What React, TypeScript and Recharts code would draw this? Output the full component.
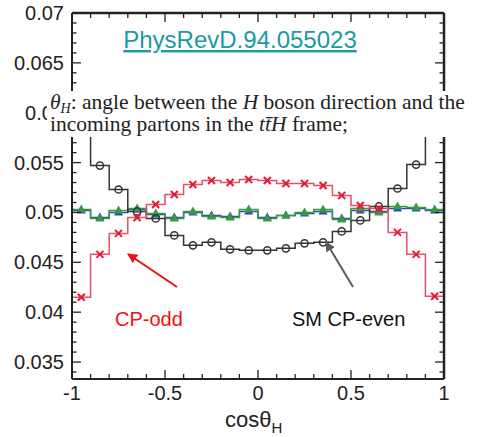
import React from "react";
import { ComposedChart, Line, Scatter, XAxis, YAxis } from "recharts";

// bin edges / centres of cos(theta_H), 20 bins
const binEdges = [
  -1, -0.9, -0.8, -0.7, -0.6, -0.5, -0.4, -0.3, -0.2, -0.1, 0,
  0.1, 0.2, 0.3, 0.4, 0.5, 0.6, 0.7, 0.8, 0.9, 1,
];
const binCenters = [
  -0.95, -0.85, -0.75, -0.65, -0.55, -0.45, -0.35, -0.25, -0.15, -0.05,
  0.05, 0.15, 0.25, 0.35, 0.45, 0.55, 0.65, 0.75, 0.85, 0.95,
];

// normalised distributions
const cpOdd = [
  0.0415, 0.0458, 0.0479, 0.0495, 0.0508, 0.0518, 0.0528, 0.0532, 0.053, 0.0533,
  0.0532, 0.0529, 0.0529, 0.0527, 0.0517, 0.0507, 0.0504, 0.048, 0.0458, 0.0416,
];
const smEven = [
  0.0595, 0.0547, 0.0523, 0.0501, 0.0494, 0.0477, 0.0467, 0.047, 0.0463, 0.0462,
  0.0462, 0.0464, 0.0469, 0.047, 0.0481, 0.0492, 0.0506, 0.0524, 0.0548, 0.0595,
];
const mixGreen = [
  0.0503, 0.0494, 0.0502, 0.0504, 0.0499, 0.0494, 0.0501, 0.0496, 0.0495, 0.0503,
  0.0494, 0.0497, 0.05, 0.0503, 0.0493, 0.0504, 0.05, 0.0506, 0.0505, 0.0503,
];
const mixBlue = [
  0.0502, 0.0495, 0.05, 0.0503, 0.0498, 0.0495, 0.05, 0.0497, 0.0496, 0.0501,
  0.0495, 0.0497, 0.0499, 0.0501, 0.0494, 0.0502, 0.0501, 0.0504, 0.0504, 0.0502,
];

const xTickLabels = ["-1", "-0.5", "0", "0.5", "1"];
const yTickLabels = ["0.035", "0.04", "0.045", "0.05", "0.055", "0.06", "0.065", "0.07"];
const yTicks = [
  0.034, 0.035, 0.036, 0.037, 0.038, 0.039, 0.04, 0.041, 0.042, 0.043, 0.044,
  0.045, 0.046, 0.047, 0.048, 0.049, 0.05, 0.051, 0.052, 0.053, 0.054, 0.055,
  0.056, 0.057, 0.058, 0.059, 0.06, 0.061, 0.062, 0.063, 0.064, 0.065, 0.066,
  0.067, 0.068, 0.069, 0.07,
];

const W = 481;
const H = 437;
const LEFT = 72;
const RIGHT = 444;
const TOP = 13;
const BOTTOM = 379;

const AXIS = "#222";
const SANS = "Arial, 'Liberation Sans', sans-serif";
const SERIF = "'Liberation Serif', 'Times New Roman', serif";

const RED_LINE = "#e4506a";
const RED_MARK = "#e01c3a";
const BLACK = "#333";
const GREEN = "#3a9a3e";
const BLUE = "#2f46b8";

const pick = (arr: number[], i: number) => arr[Math.min(i, arr.length - 1)];

const edgeRows = binEdges.map((x, i) => ({
  x,
  odd: pick(cpOdd, i),
  even: pick(smEven, i),
  green: pick(mixGreen, i),
  blue: pick(mixBlue, i),
}));
const centerRows = binCenters.map((x, i) => ({
  x,
  odd: cpOdd[i],
  even: smEven[i],
  green: mixGreen[i],
  blue: mixBlue[i],
}));

const isHalf = (v: number) => Math.abs(v * 2 - Math.round(v * 2)) < 1e-6;
const isFive = (v: number) => Math.round(v * 1000) % 5 === 0;

const BottomTick = ({ x, payload }: any) => {
  const v = payload.value;
  const major = isHalf(v);
  return (
    <g>
      <line x1={x} x2={x} y1={BOTTOM} y2={BOTTOM - (major ? 9 : 5)} stroke={AXIS} strokeWidth={1.3} />
      {major && (
        <text x={x} y={400} textAnchor="middle" fontSize={20} fontFamily={SANS} fill="#222">
          {xTickLabels[Math.round((v + 1) * 2)]}
        </text>
      )}
    </g>
  );
};

const TopTick = ({ x, payload }: any) => {
  const major = isHalf(payload.value);
  return <line x1={x} x2={x} y1={TOP} y2={TOP + (major ? 9 : 5)} stroke={AXIS} strokeWidth={1.3} />;
};

const LeftTick = ({ y, payload }: any) => {
  const v = payload.value;
  const major = isFive(v);
  return (
    <g>
      <line x1={LEFT} x2={LEFT + (major ? 9 : 4.5)} y1={y} y2={y} stroke={AXIS} strokeWidth={1.3} />
      {major && (
        <text x={64} y={y + 7} textAnchor="end" fontSize={20} fontFamily={SANS} fill="#222">
          {yTickLabels[(Math.round(v * 1000) - 35) / 5]}
        </text>
      )}
    </g>
  );
};

const RightTick = ({ y, payload }: any) => {
  const major = isFive(payload.value);
  return <line x1={RIGHT} x2={RIGHT - (major ? 9 : 4.5)} y1={y} y2={y} stroke={AXIS} strokeWidth={1.3} />;
};

const Cross = ({ cx, cy }: any) => (
  <g stroke={RED_MARK} strokeWidth={2}>
    <line x1={cx - 3.5} y1={cy - 3.5} x2={cx + 3.5} y2={cy + 3.5} />
    <line x1={cx - 3.5} y1={cy + 3.5} x2={cx + 3.5} y2={cy - 3.5} />
  </g>
);
const Circle = ({ cx, cy }: any) => (
  <circle cx={cx} cy={cy} r={3.6} fill="none" stroke={BLACK} strokeWidth={1.5} />
);
const triangle = (color: string) => ({ cx, cy }: any) => (
  <polygon
    points={`${cx},${cy - 5} ${cx - 4.5},${cy + 3} ${cx + 4.5},${cy + 3}`}
    fill={color}
  />
);

export default function App() {
  return (
    <div style={{ position: "relative", width: W, height: H, background: "#fff" }}>
      <style>{"body{margin:0}"}</style>
      <ComposedChart width={W} height={H} margin={{ top: 0, right: 0, bottom: 0, left: 0 }}>
        <XAxis
          xAxisId="b"
          dataKey="x"
          type="number"
          domain={[-1, 1]}
          ticks={binEdges}
          tick={<BottomTick />}
          tickLine={false}
          axisLine={{ stroke: AXIS, strokeWidth: 2 }}
          height={H - BOTTOM}
          interval={0}
          allowDataOverflow
        />
        <XAxis
          xAxisId="t"
          orientation="top"
          dataKey="x"
          type="number"
          domain={[-1, 1]}
          ticks={binEdges}
          tick={<TopTick />}
          tickLine={false}
          axisLine={{ stroke: AXIS, strokeWidth: 2.5 }}
          height={TOP}
          interval={0}
          allowDataOverflow
        />
        <YAxis
          yAxisId="l"
          type="number"
          domain={[0.0333, 0.07]}
          ticks={yTicks}
          tick={<LeftTick />}
          tickLine={false}
          axisLine={{ stroke: AXIS, strokeWidth: 2 }}
          width={LEFT}
          interval={0}
          allowDataOverflow
        />
        <YAxis
          yAxisId="r"
          orientation="right"
          type="number"
          domain={[0.0333, 0.07]}
          ticks={yTicks}
          tick={<RightTick />}
          tickLine={false}
          axisLine={{ stroke: AXIS, strokeWidth: 2.5 }}
          width={W - RIGHT}
          interval={0}
          allowDataOverflow
        />

        <Line xAxisId="b" yAxisId="l" data={edgeRows} dataKey="blue" type="stepAfter" stroke={BLUE} strokeWidth={1.5} dot={false} isAnimationActive={false} />
        <Line xAxisId="b" yAxisId="l" data={edgeRows} dataKey="green" type="stepAfter" stroke={GREEN} strokeWidth={1.5} dot={false} isAnimationActive={false} />
        <Line xAxisId="b" yAxisId="l" data={edgeRows} dataKey="even" type="stepAfter" stroke={BLACK} strokeWidth={1.5} dot={false} isAnimationActive={false} />
        <Line xAxisId="b" yAxisId="l" data={edgeRows} dataKey="odd" type="stepAfter" stroke={RED_LINE} strokeWidth={1.5} dot={false} isAnimationActive={false} />

        <Scatter xAxisId="b" yAxisId="l" data={centerRows} dataKey="blue" shape={triangle(BLUE)} isAnimationActive={false} />
        <Scatter xAxisId="b" yAxisId="l" data={centerRows} dataKey="green" shape={triangle(GREEN)} isAnimationActive={false} />
        <Scatter xAxisId="b" yAxisId="l" data={centerRows} dataKey="even" shape={<Circle />} isAnimationActive={false} />
        <Scatter xAxisId="b" yAxisId="l" data={centerRows} dataKey="odd" shape={<Cross />} isAnimationActive={false} />
      </ComposedChart>

      <svg width={W} height={H} style={{ position: "absolute", left: 0, top: 0, pointerEvents: "none" }}>
        <defs>
          <marker id="ahRed" viewBox="0 0 10 10" refX="9" refY="5" markerWidth="5" markerHeight="5" orient="auto">
            <path d="M0,0 L10,5 L0,10 z" fill="#ee1111" />
          </marker>
          <marker id="ahGray" viewBox="0 0 10 10" refX="9" refY="5" markerWidth="5" markerHeight="5" orient="auto">
            <path d="M0,0 L10,5 L0,10 z" fill="#5a5a5a" />
          </marker>
        </defs>

        <text x={240} y={48} textAnchor="middle" fontSize={24} fontFamily={SANS} fill="#1a9aa6" textDecoration="underline">
          PhysRevD.94.055023
        </text>

        <rect x={47} y={91} width={W - 47} height={46} fill="#fff" />
        <text x={50} y={109} fontSize={21.5} fontFamily={SERIF} fill="#222">
          <tspan fontStyle="italic">θ</tspan>
          <tspan fontStyle="italic" fontSize={14} dy={4}>H</tspan>
          <tspan dy={-4}>: angle between the </tspan>
          <tspan fontStyle="italic">H</tspan>
          <tspan> boson direction and the</tspan>
        </text>
        <text x={50} y={131} fontSize={21.5} fontFamily={SERIF} fill="#222">
          <tspan>incoming partons in the </tspan>
          <tspan fontStyle="italic">t{"t\u0304"}H</tspan>
          <tspan> frame;</tspan>
        </text>

        <line x1={177} y1={287} x2={128} y2={254} stroke="#ee1111" strokeWidth={2} markerEnd="url(#ahRed)" />
        <line x1={353} y1={287} x2={326} y2={242} stroke="#5a5a5a" strokeWidth={2} markerEnd="url(#ahGray)" />

        <text x={115} y={326} fontSize={20} fontFamily={SANS} fill="#ee1111">CP-odd</text>
        <text x={292} y={326} fontSize={20} fontFamily={SANS} fill="#111">SM CP-even</text>

        <text x={225} y={427} fontSize={22} fontFamily={SANS} fill="#222">
          cosθ
          <tspan fontSize={15} dy={6}>H</tspan>
        </text>
      </svg>
    </div>
  );
}
